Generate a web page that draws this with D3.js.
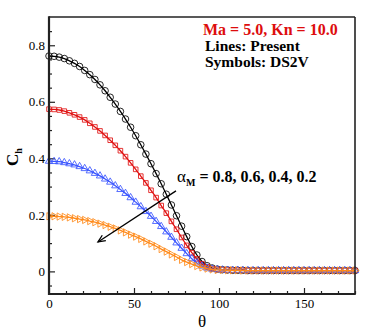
<!DOCTYPE html>
<html>
<head>
	<script src="https://cdn.jsdelivr.net/npm/d3@7"></script>
	<style>
		html, body {
			padding: 0;
			margin: 0;
			background: #ffffff;
		}
		svg text {
			font-family: "Liberation Serif", "Times New Roman", serif;
		}
	</style>
</head>
<body>
	<script>
		// theta in degrees, DS2V / present results every 3 deg
		var theta = d3.range(0, 181, 3);

		var ch08 = [0.762, 0.761, 0.758, 0.753, 0.745, 0.736, 0.725, 0.711, 0.696, 0.679,
		            0.660, 0.639, 0.616, 0.592, 0.566, 0.539, 0.510, 0.480, 0.448, 0.415,
		            0.381, 0.346, 0.310, 0.273, 0.235, 0.197, 0.160, 0.123, 0.088, 0.058,
		            0.035, 0.020, 0.012, 0.008, 0.006, 0.005, 0.004, 0.004, 0.004, 0.003,
		            0.003, 0.003, 0.003, 0.003, 0.003, 0.003, 0.003, 0.003, 0.003, 0.003,
		            0.003, 0.003, 0.003, 0.003, 0.003, 0.003, 0.003, 0.003, 0.003, 0.003, 0.003];

		var ch06 = [0.574, 0.573, 0.571, 0.567, 0.561, 0.554, 0.546, 0.536, 0.524, 0.511,
		            0.497, 0.481, 0.464, 0.446, 0.427, 0.406, 0.384, 0.361, 0.337, 0.313,
		            0.287, 0.261, 0.233, 0.206, 0.177, 0.149, 0.120, 0.092, 0.066, 0.044,
		            0.027, 0.016, 0.010, 0.007, 0.006, 0.005, 0.004, 0.004, 0.004, 0.003,
		            0.003, 0.003, 0.003, 0.003, 0.003, 0.003, 0.003, 0.003, 0.003, 0.003,
		            0.003, 0.003, 0.003, 0.003, 0.003, 0.003, 0.003, 0.003, 0.003, 0.003, 0.003];

		var ch04 = [0.390, 0.389, 0.388, 0.385, 0.381, 0.377, 0.371, 0.364, 0.356, 0.347,
		            0.338, 0.327, 0.316, 0.303, 0.290, 0.276, 0.261, 0.245, 0.229, 0.212,
		            0.195, 0.177, 0.159, 0.140, 0.121, 0.101, 0.082, 0.063, 0.045, 0.030,
		            0.019, 0.012, 0.008, 0.006, 0.005, 0.004, 0.004, 0.004, 0.003, 0.003,
		            0.003, 0.003, 0.003, 0.003, 0.003, 0.003, 0.003, 0.003, 0.003, 0.003,
		            0.003, 0.003, 0.003, 0.003, 0.003, 0.003, 0.003, 0.003, 0.003, 0.003, 0.003];

		var ch02 = [0.195, 0.195, 0.194, 0.193, 0.191, 0.188, 0.185, 0.182, 0.178, 0.174,
		            0.169, 0.164, 0.158, 0.152, 0.145, 0.138, 0.130, 0.123, 0.115, 0.106,
		            0.098, 0.089, 0.079, 0.070, 0.060, 0.051, 0.041, 0.033, 0.026, 0.019,
		            0.014, 0.010, 0.007, 0.005, 0.005, 0.004, 0.004, 0.004, 0.003, 0.003,
		            0.003, 0.003, 0.003, 0.003, 0.003, 0.003, 0.003, 0.003, 0.003, 0.003,
		            0.003, 0.003, 0.003, 0.003, 0.003, 0.003, 0.003, 0.003, 0.003, 0.003, 0.003];

		var xTicks = [0, 50, 100, 150];
		var yTicks = [0, 0.2, 0.4, 0.6, 0.8];

		var series = [
			{ values: ch08, color: '#000000', symbol: 'circle' },
			{ values: ch06, color: '#e01010', symbol: 'square' },
			{ values: ch04, color: '#3a55ff', symbol: 'triup' },
			{ values: ch02, color: '#ff8a1a', symbol: 'triright' }
		];

		var width = 374, height = 332;
		var plotLeft = 49, plotRight = 355, plotTop = 17, plotBottom = 294;

		var svg = d3.select('body').append('svg')
			.attr('width', width)
			.attr('height', height)
			.style('background-color', '#ffffff');

		var x = d3.scaleLinear().domain([0, 180]).range([plotLeft, plotRight]);
		var y = d3.scaleLinear().domain([-0.08, 0.9]).range([plotBottom, plotTop]);

		// minor ticks
		var xMinor = d3.range(0, 181, 10).filter(function (d) { return xTicks.indexOf(d) < 0; });
		var yMinor = d3.range(-0.05, 0.88, 0.05).map(function (d) { return +d.toFixed(2); })
			.filter(function (d) { return yTicks.indexOf(d) < 0; });

		svg.append('g')
			.attr('transform', 'translate(0,' + plotBottom + ')')
			.call(d3.axisBottom(x).tickValues(xMinor).tickSize(-3).tickFormat(''))
			.call(function (g) { g.select('.domain').remove(); });
		svg.append('g')
			.attr('transform', 'translate(' + plotLeft + ',0)')
			.call(d3.axisLeft(y).tickValues(yMinor).tickSize(-3).tickFormat(''))
			.call(function (g) { g.select('.domain').remove(); });

		// major ticks + labels
		var gx = svg.append('g')
			.attr('transform', 'translate(0,' + plotBottom + ')')
			.call(d3.axisBottom(x).tickValues(xTicks).tickSize(-6).tickPadding(5).tickFormat(d3.format('d')));
		gx.select('.domain').remove();

		var gy = svg.append('g')
			.attr('transform', 'translate(' + plotLeft + ',0)')
			.call(d3.axisLeft(y).tickValues(yTicks).tickSize(-6).tickPadding(4)
				.tickFormat(function (d) { return d === 0 ? '0' : d3.format('.1f')(d); }));
		gy.select('.domain').remove();

		svg.selectAll('g').attr('font-family', '"Liberation Serif", serif').attr('font-size', 13);
		svg.selectAll('.tick line').attr('stroke', '#222').attr('stroke-width', 1.2);
		svg.selectAll('.tick text')
			.style('font-family', '"Liberation Serif", serif')
			.style('font-size', '13px')
			.attr('fill', '#000');

		// curves
		var line = d3.line()
			.x(function (d, i) { return x(theta[i]); })
			.y(function (d) { return y(d); })
			.curve(d3.curveMonotoneX);

		var symbolFor = {
			circle: d3.symbol().type(d3.symbolCircle).size(34),
			square: d3.symbol().type(d3.symbolSquare).size(21),
			triup: d3.symbol().type(d3.symbolTriangle).size(23),
			triright: d3.symbol().type(d3.symbolTriangle).size(23)
		};

		series.forEach(function (s) {
			svg.append('path')
				.datum(s.values)
				.attr('fill', 'none')
				.attr('stroke', s.color)
				.attr('stroke-width', 1.3)
				.attr('d', line);

			svg.append('g').selectAll('path')
				.data(s.values)
				.enter().append('path')
				.attr('d', symbolFor[s.symbol])
				.attr('transform', function (d, i) {
					return 'translate(' + x(theta[i]) + ',' + y(d) + ')' + (s.symbol === 'triright' ? ' rotate(90)' : '');
				})
				.attr('fill', 'none')
				.attr('stroke', s.color)
				.attr('stroke-width', 0.85);
		});

		// frame
		var frame = svg.append('g').attr('stroke', '#222').attr('fill', 'none');
		frame.append('line').attr('x1', plotLeft).attr('x2', plotRight).attr('y1', plotTop).attr('y2', plotTop).attr('stroke-width', 1.4);
		frame.append('line').attr('x1', plotRight).attr('x2', plotRight).attr('y1', plotTop).attr('y2', plotBottom).attr('stroke-width', 1.6);
		frame.append('line').attr('x1', plotLeft).attr('x2', plotLeft).attr('y1', plotTop - 0.7).attr('y2', plotBottom + 1).attr('stroke-width', 2.2);
		frame.append('line').attr('x1', plotLeft - 1).attr('x2', plotRight + 0.8).attr('y1', plotBottom).attr('y2', plotBottom).attr('stroke-width', 2.2);

		// axis titles
		var ylab = svg.append('text')
			.attr('transform', 'translate(18,157) rotate(-90)')
			.attr('text-anchor', 'middle')
			.style('font-size', '17px')
			.style('font-weight', 'bold');
		ylab.append('tspan').text('C');
		ylab.append('tspan').attr('dy', 4).style('font-size', '10px').text('h');

		svg.append('text')
			.attr('x', 202)
			.attr('y', 327)
			.attr('text-anchor', 'middle')
			.style('font-size', '17px')
			.text('θ');

		// annotations
		svg.append('text')
			.attr('x', 203).attr('y', 35)
			.style('font-size', '16px').style('font-weight', 'bold')
			.attr('fill', '#dd0d0d')
			.text('Ma = 5.0, Kn = 10.0');
		svg.append('text')
			.attr('x', 205).attr('y', 51)
			.style('font-size', '15.5px').style('font-weight', 'bold')
			.text('Lines: Present');
		svg.append('text')
			.attr('x', 205).attr('y', 66.5)
			.style('font-size', '15.5px').style('font-weight', 'bold')
			.text('Symbols: DS2V');

		var alab = svg.append('text')
			.attr('x', 177).attr('y', 182);
		alab.append('tspan').style('font-size', '17px').text('α');
		alab.append('tspan').attr('dy', 4).style('font-size', '10px').style('font-weight', 'bold').text('M');
		alab.append('tspan').attr('dy', -4).style('font-size', '16px').style('font-weight', 'bold').text(' = 0.8, 0.6, 0.4, 0.2');

		// arrow showing decreasing alpha
		var a0 = [x(74.7), y(0.285)], a1 = [x(28.8), y(0.104)];
		svg.append('line')
			.attr('x1', a0[0]).attr('y1', a0[1])
			.attr('x2', a1[0]).attr('y2', a1[1])
			.attr('stroke', '#000').attr('stroke-width', 1.3);
		var ang = Math.atan2(a1[1] - a0[1], a1[0] - a0[0]);
		var hl = 8, spread = 0.42;
		svg.append('path')
			.attr('d', 'M' + (a1[0] - hl * Math.cos(ang - spread)) + ',' + (a1[1] - hl * Math.sin(ang - spread)) +
				'L' + a1[0] + ',' + a1[1] +
				'L' + (a1[0] - hl * Math.cos(ang + spread)) + ',' + (a1[1] - hl * Math.sin(ang + spread)))
			.attr('fill', 'none')
			.attr('stroke', '#000')
			.attr('stroke-width', 1.3);
	</script>
</body>
</html>
